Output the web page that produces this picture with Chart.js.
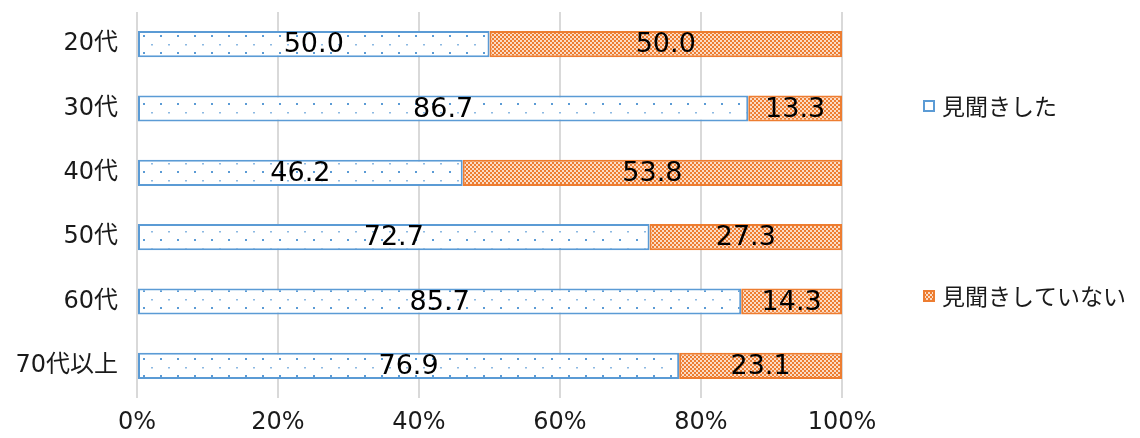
<!DOCTYPE html>
<html lang="ja">
<head>
<meta charset="utf-8">
<script src="https://cdn.jsdelivr.net/npm/chart.js@4/dist/chart.umd.min.js"></script>
<style>
    html, body { margin: 0; padding: 0; background: #fff; }
    #wrap { width: 1140px; height: 438px; }
</style>
</head>
<body>
<div id="wrap"><canvas id="chart" width="1140" height="438"></canvas></div>
<script>
const ageGroups = ['20代', '30代', '40代', '50代', '60代', '70代以上'];
const seriesNames = ['見聞きした', '見聞きしていない'];
const heardValues = [50.0, 86.7, 46.2, 72.7, 85.7, 76.9];
const notHeardValues = [50.0, 13.3, 53.8, 27.3, 14.3, 23.1];
const xTicks = [0, 20, 40, 60, 80, 100];

const FONT = '"DejaVu Sans", "Noto Sans CJK JP", sans-serif';
const JP_FONT = '"Noto Sans CJK JP", sans-serif';
const blue = '#5b9bd5';
const orange = '#ed7d31';

// dotted fill for the first series
function makeDotPattern(ctx) {
    const tile = document.createElement('canvas');
    tile.width = 17;
    tile.height = 17;
    const t = tile.getContext('2d');
    t.fillStyle = '#fff';
    t.fillRect(0, 0, 17, 17);
    t.fillStyle = blue;
    t.fillRect(7, 1, 2, 2);
    t.globalAlpha = 0.7;
    t.fillRect(15, 10, 2, 1.5);
    return ctx.createPattern(tile, 'repeat');
}

// fine checker fill for the second series
function makeCheckerPattern(ctx) {
    const tile = document.createElement('canvas');
    tile.width = 4;
    tile.height = 4;
    const t = tile.getContext('2d');
    t.fillStyle = orange;
    t.fillRect(0, 0, 4, 4);
    t.fillStyle = '#fbdcc6';
    t.fillRect(0, 0, 2, 2);
    t.fillRect(2, 2, 2, 2);
    return ctx.createPattern(tile, 'repeat');
}

const ctx = document.getElementById('chart').getContext('2d');
const dotFill = makeDotPattern(ctx);
const checkerFill = makeCheckerPattern(ctx);

const valueLabels = {
    id: 'valueLabels',
    afterDatasetsDraw(chart) {
        const c = chart.ctx;
        c.save();
        c.font = '27px ' + FONT;
        c.fillStyle = '#000';
        c.textAlign = 'center';
        c.textBaseline = 'middle';
        chart.data.datasets.forEach((ds, i) => {
            chart.getDatasetMeta(i).data.forEach((bar, j) => {
                const p = bar.getCenterPoint();
                c.fillText(ds.data[j].toFixed(1), p.x, p.y + 1);
            });
        });
        c.restore();
    }
};

const sideLegend = {
    id: 'sideLegend',
    afterDraw(chart, args, opts) {
        const c = chart.ctx;
        c.save();
        c.font = '23px ' + JP_FONT;
        c.textBaseline = 'middle';
        c.textAlign = 'left';
        chart.data.datasets.forEach((ds, i) => {
            const y = opts.rows[i];
            const x = opts.x;
            c.fillStyle = ds.legendFill;
            c.fillRect(x, y - 6, 12, 12);
            c.strokeStyle = ds.borderColor;
            c.lineWidth = 2;
            c.strokeRect(x + 1, y - 5, 10, 10);
            c.fillStyle = '#1a1a1a';
            c.fillText(ds.label, x + 19, y);
        });
        c.restore();
    }
};

new Chart(ctx, {
    type: 'bar',
    data: {
        labels: ageGroups,
        datasets: [
            {
                label: seriesNames[0],
                data: heardValues,
                backgroundColor: dotFill,
                legendFill: '#fff',
                borderColor: blue,
                borderWidth: 2,
                borderSkipped: false
            },
            {
                label: seriesNames[1],
                data: notHeardValues,
                backgroundColor: checkerFill,
                legendFill: checkerFill,
                borderColor: orange,
                borderWidth: 2,
                borderSkipped: false
            }
        ]
    },
    options: {
        indexAxis: 'y',
        responsive: false,
        animation: false,
        layout: { padding: { top: 12, right: 298, left: 0, bottom: 0 } },
        datasets: {
            bar: { categoryPercentage: 0.8, barPercentage: 0.51 }
        },
        scales: {
            x: {
                stacked: true,
                min: 0,
                max: 100,
                afterBuildTicks: (scale) => { scale.ticks = xTicks.map(v => ({ value: v })); },
                afterFit: (scale) => { scale.height = 40; },
                grid: { color: '#d9d9d9', lineWidth: 2, drawTicks: false },
                border: { display: false },
                ticks: {
                    padding: 10,
                    color: '#1a1a1a',
                    font: { family: FONT, size: 24 },
                    callback: (v) => v + '%'
                }
            },
            y: {
                stacked: true,
                afterFit: (scale) => {
                    scale.width = 137;
                    scale.paddingTop = 0;
                    scale.paddingBottom = 0;
                },
                grid: { display: false },
                border: { display: false },
                ticks: {
                    padding: 11,
                    color: '#1a1a1a',
                    font: { family: FONT, size: 24 }
                }
            }
        },
        plugins: {
            legend: { display: false },
            tooltip: { enabled: false },
            sideLegend: { x: 923, rows: [106, 296] }
        }
    },
    plugins: [valueLabels, sideLegend]
});
</script>
</body>
</html>
